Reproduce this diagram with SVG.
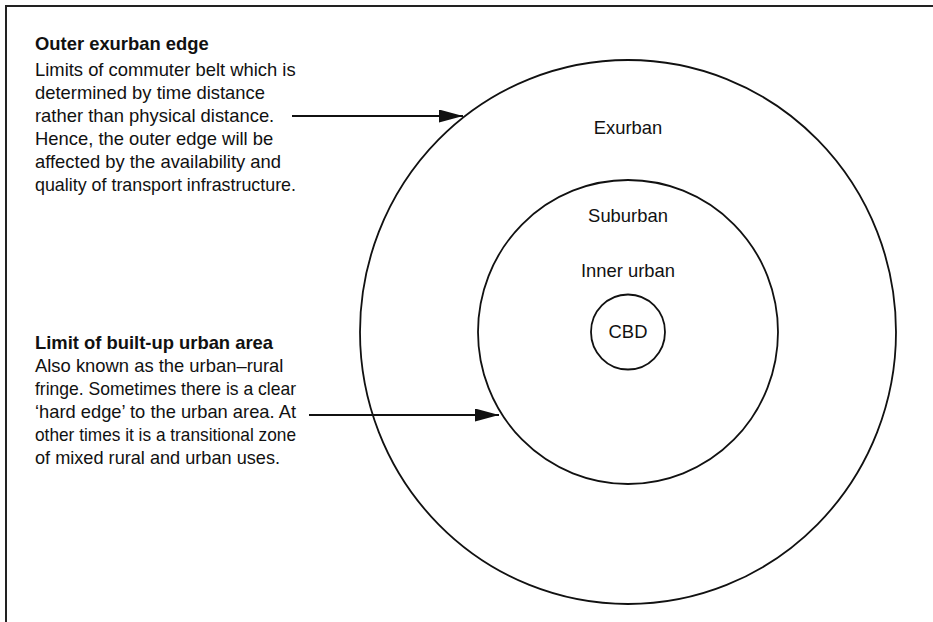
<svg xmlns="http://www.w3.org/2000/svg" width="933" height="622" viewBox="0 0 933 622">
<style>
.t{font-family:"Liberation Sans",Arial,Helvetica,sans-serif;font-size:18.4px;fill:#111}
.b{font-weight:bold}
.c{text-anchor:middle}
.ring{fill:none;stroke:#111;stroke-width:1.8}
.conn{stroke:#111;stroke-width:2;fill:none}
</style>
<defs>
<marker id="ah" markerUnits="userSpaceOnUse" markerWidth="25" markerHeight="14" refX="24" refY="6.5" orient="auto">
<polygon points="0,0 24,6.5 0,13" fill="#111"/>
</marker>
</defs>
<rect width="933" height="622" fill="#fff"/>
<path d="M6,622 V6 H933" fill="none" stroke="#222" stroke-width="2"/>

<g id="exurban">
<ellipse class="ring" cx="628" cy="332" rx="268" ry="272"/>
<text class="t c" x="628" y="134">Exurban</text>
</g>
<g id="suburban">
<ellipse class="ring" cx="628" cy="332" rx="150" ry="152"/>
<text class="t c" x="628" y="222">Suburban</text>
</g>
<g id="inner-urban">
<text class="t c" x="628" y="277">Inner urban</text>
</g>
<g id="cbd">
<ellipse class="ring" cx="628" cy="332" rx="37" ry="37.5"/>
<text class="t c" x="628" y="338">CBD</text>
</g>

<g id="label-outer">
<text class="t b" x="35" y="50">Outer exurban edge</text>
<text class="t" x="35" y="76">Limits of commuter belt which is</text>
<text class="t" x="35" y="99">determined by time distance</text>
<text class="t" x="35" y="122">rather than physical distance.</text>
<text class="t" x="35" y="145">Hence, the outer edge will be</text>
<text class="t" x="35" y="168">affected by the availability and</text>
<text class="t" x="35" y="191" textLength="261" lengthAdjust="spacingAndGlyphs">quality of transport infrastructure.</text>
</g>
<g id="label-limit">
<text class="t b" x="35" y="349">Limit of built-up urban area</text>
<text class="t" x="35" y="372">Also known as the urban–rural</text>
<text class="t" x="35" y="395" textLength="261" lengthAdjust="spacingAndGlyphs">fringe. Sometimes there is a clear</text>
<text class="t" x="35" y="418" textLength="261" lengthAdjust="spacingAndGlyphs">‘hard edge’ to the urban area. At</text>
<text class="t" x="35" y="441" textLength="261" lengthAdjust="spacingAndGlyphs">other times it is a transitional zone</text>
<text class="t" x="35" y="464" textLength="245" lengthAdjust="spacingAndGlyphs">of mixed rural and urban uses.</text>
</g>

<g id="connectors">
<line class="conn" x1="292" y1="116" x2="463" y2="116" marker-end="url(#ah)"/>
<line class="conn" x1="309" y1="415" x2="499" y2="415" marker-end="url(#ah)"/>
</g>
</svg>
